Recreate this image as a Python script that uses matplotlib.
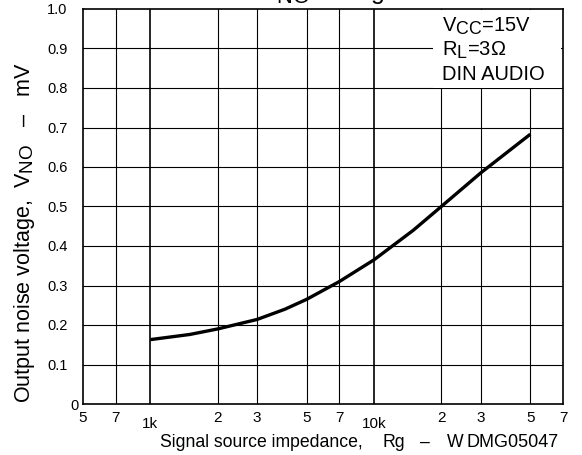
import matplotlib
matplotlib.use("Agg")
import matplotlib.pyplot as plt
import matplotlib._mathtext as mathtext_internal
from matplotlib import font_manager
from matplotlib.patches import Rectangle

plt.rcParams['font.family'] = ['Liberation Sans', 'DejaVu Sans']
plt.rcParams['mathtext.fontset'] = 'custom'
plt.rcParams['mathtext.rm'] = 'Liberation Sans'
plt.rcParams['mathtext.default'] = 'regular'
# the datasheet uses near full size subscripts
mathtext_internal.SHRINK_FACTOR = 0.88

# curve (Rg in ohm, VNO in mV)
rg = [1000, 1500, 2000, 3000, 4000, 5000, 7000, 10000, 15000, 20000, 30000, 50000]
vno = [0.163, 0.176, 0.190, 0.214, 0.240, 0.265, 0.310, 0.365, 0.440, 0.500, 0.585, 0.683]

xticks = [500, 700, 1000, 2000, 3000, 5000, 7000, 10000, 20000, 30000, 50000, 70000]
xticklabels = ['5', '7', '1k', '2', '3', '5', '7', '10k', '2', '3', '5', '7']
yticks = [0, 0.1, 0.2, 0.3, 0.4, 0.5, 0.6, 0.7, 0.8, 0.9, 1.0]
yticklabels = ['0', '0.1', '0.2', '0.3', '0.4', '0.5', '0.6', '0.7', '0.8', '0.9', '1.0']
conditions = ['V$_{CC}$=15V', 'R$_{L}$=3\u03a9', 'DIN AUDIO']

names = {f.name for f in font_manager.fontManager.ttflist}
if 'Liberation Sans Narrow' in names:
    xlab_font = dict(family='Liberation Sans Narrow', fontsize=16)
else:
    xlab_font = dict(family='Liberation Sans', fontsize=12.7)

W, H = 582, 455
fig = plt.figure(figsize=(W / 100, H / 100), dpi=100)
ax = fig.add_axes([83 / W, 51 / H, 480 / W, 395 / H])
ax.set_xscale('log')
ax.set_xlim(500, 70000)
ax.set_ylim(0, 1.0)

# grid
for x in xticks[1:-1]:
    heavy = x in (1000, 10000)
    ax.axvline(x, color='black', lw=1.2 if heavy else 0.8, zorder=1)
for y in yticks[1:-1]:
    ax.axhline(y, color='black', lw=0.8, zorder=1)

ax.plot(rg, vno, color='black', lw=2.4, zorder=3, solid_capstyle='butt')

# white box behind the conditions text
ax.add_patch(Rectangle((18300, 0.8), 70000 - 18300 - 1200, 0.198, facecolor='white',
                       edgecolor='none', zorder=2))
for i, s in enumerate(conditions):
    fig.text(442 / W, 1 - (32 + 24 * i) / H, s, fontsize=14.5, va='baseline', ha='left')

ax.minorticks_off()
ax.set_xticks(xticks)
ax.set_xticklabels(xticklabels, fontsize=11)
ax.set_yticks(yticks)
ax.set_yticklabels(yticklabels, fontsize=10.5)
ax.tick_params(length=0)
for t, lab in zip(ax.xaxis.get_major_ticks(), xticklabels):
    t.set_pad(9 if 'k' in lab else 5)
for t, lab in zip(ax.yaxis.get_major_ticks(), yticklabels):
    t.set_pad(3 if lab == '0' else 11)

for s in ax.spines.values():
    s.set_linewidth(1.2)
    s.set_zorder(5)

fig.text(25 / W, 1 - 403 / H, 'Output noise voltage,  V$_{NO}$   \u2013   mV',
         rotation=90, fontsize=15.5, ha='center', va='bottom')

# x label pieces, spaced as in the datasheet
base = 1 - 447 / H
fig.text(160 / W, base, 'Signal source impedance,', ha='left', va='baseline', **xlab_font)
fig.text(383 / W, base, 'Rg', ha='left', va='baseline', **xlab_font)
fig.text(420 / W, base, '\u2013', ha='left', va='baseline', **xlab_font)
fig.text(447 / W, base, 'W', ha='left', va='baseline', **xlab_font)
fig.text(467 / W, base, 'DMG05047', fontsize=13, ha='left', va='baseline')

# title, mostly cut off by the top edge
fig.text(322 / W, 1 + 1 / H, 'V$_{NO}$  \u2013  Rg', fontsize=18, ha='center', va='baseline')

fig.savefig('out.png', dpi=100)
